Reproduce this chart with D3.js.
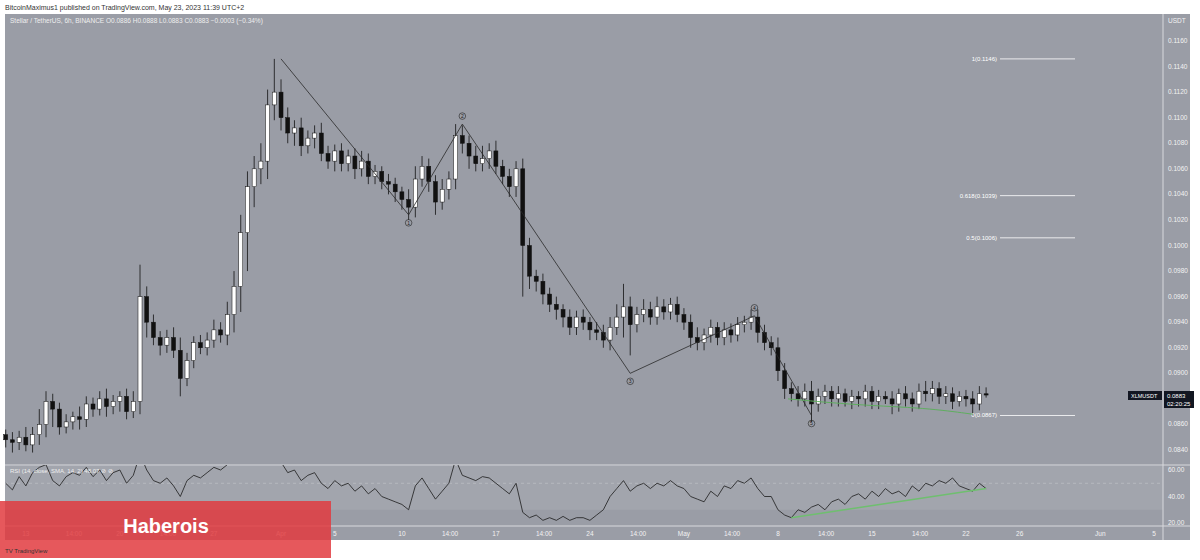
<!DOCTYPE html>
<html><head><meta charset="utf-8">
<script src="https://cdn.jsdelivr.net/npm/d3@7"></script>
<style>body{margin:0;background:#fff}svg{display:block;font-family:"Liberation Sans",Arial,sans-serif}</style>
</head><body><div id="chart"></div>
<script>
// closes in units of 0.0001 USDT, 12h candles from Mar 11 12:00
var closes = [848,846,850,844,852,860,878,872,858,862,866,864,876,872,880,874,878,882,870,878,
  960,940,928,922,928,918,896,910,924,920,926,934,930,946,968,1010,1046,1060,1066,1110,
  1120,1100,1088,1092,1078,1084,1088,1072,1066,1074,1064,1070,1060,1066,1054,1058,1050,1048,1042,1036,
  1030,1052,1062,1050,1034,1044,1052,1086,1080,1070,1064,1068,1074,1062,1054,1046,1060,1000,976,972,
  962,954,950,944,936,944,940,934,932,926,936,944,952,938,946,950,944,952,948,954,
  946,940,928,924,930,936,928,934,930,938,940,944,932,924,920,902,888,884,880,886,
  876,882,886,880,884,878,882,880,886,878,882,880,876,884,880,876,886,884,888,882,
  884,878,882,880,876,884,883];
var upWick = [4,6,5,8,6,12,8,6,5,6,4,8,6,5,6,8,5,4,6,8,
  25,8,6,5,6,8,10,6,5,6,6,8,6,10,12,14,12,10,14,12,
  26,10,8,6,8,6,6,8,6,5,6,5,6,8,6,5,4,6,5,4,
  8,10,8,6,5,8,6,9,8,6,8,10,6,8,5,6,6,8,6,5,
  6,5,6,4,6,5,6,4,6,6,8,10,18,8,6,8,6,8,6,5,
  6,5,6,8,5,6,4,6,5,6,5,6,6,6,5,8,6,5,6,6,
  8,6,5,4,6,4,5,4,5,4,5,4,6,4,6,5,6,8,6,5,
  6,5,4,5,6,6,5];
var dnWick = [6,8,6,5,6,8,10,14,6,5,6,8,6,6,5,8,6,8,6,5,
  10,12,6,8,6,6,14,6,6,5,6,6,6,8,14,20,30,16,12,14,
  12,10,8,10,8,6,8,6,6,8,6,6,8,6,6,6,6,8,8,8,
  10,8,6,8,10,6,8,8,8,10,6,6,8,6,6,8,8,40,10,8,
  8,6,8,8,6,6,6,8,6,6,8,6,16,24,6,6,6,6,6,6,
  6,6,8,6,6,6,6,6,6,5,6,6,8,6,6,8,8,6,6,6,
  14,6,6,6,6,4,6,6,6,6,6,4,8,6,6,6,4,6,6,6,
  6,6,4,6,8,5,2];
var rsi = [50,45,55,48,58,62,64,52,48,55,58,56,62,55,60,52,58,60,50,56,
  72,60,52,50,54,48,40,52,56,54,58,62,60,64,70,78,82,80,80,85,
  84,66,58,60,52,56,58,50,46,52,48,50,44,48,42,46,40,38,36,34,
  30,48,54,46,38,44,50,68,56,54,52,55,54,50,46,42,50,28,24,26,
  22,24,22,25,22,24,24,22,26,30,40,46,52,44,48,50,46,50,48,52,
  48,46,40,38,36,44,40,48,46,52,50,54,46,40,40,30,26,24,30,28,
  32,34,30,36,38,34,40,42,38,44,40,46,42,44,40,48,44,50,48,52,
  50,54,48,46,44,50,46];
var priceTicks = [0.1160,0.1140,0.1120,0.1100,0.1080,0.1060,0.1040,0.1020,0.1000,0.0980,0.0960,0.0940,0.0920,0.0900,0.0860,0.0840];
var rsiTicks = [60,40,20];
var timeLabels = [["13","2023-03-13T00:00"],["14:00","2023-03-16T14:00"],["20","2023-03-20T00:00"],["14:00","2023-03-23T14:00"],
  ["27","2023-03-27T00:00"],["Apr","2023-04-01T00:00"],["5","2023-04-05T00:00"],["10","2023-04-10T00:00"],["14:00","2023-04-13T14:00"],
  ["17","2023-04-17T00:00"],["14:00","2023-04-20T14:00"],["24","2023-04-24T00:00"],["14:00","2023-04-27T14:00"],["May","2023-05-01T00:00"],
  ["14:00","2023-05-04T14:00"],["8","2023-05-08T00:00"],["14:00","2023-05-11T14:00"],["15","2023-05-15T00:00"],["14:00","2023-05-18T14:00"],
  ["22","2023-05-22T00:00"],["26","2023-05-26T00:00"],["Jun","2023-06-01T00:00"],["5","2023-06-05T00:00"]];
// elliott wave pivots: [date, price, label]
var waves = [["2023-04-01T00:00",0.1146,""],["2023-04-10T12:00",0.1024,"1"],["2023-04-14T12:00",0.1095,"2"],
  ["2023-04-27T00:00",0.0900,"3"],["2023-05-06T06:00",0.0945,"4"],["2023-05-10T12:00",0.0867,"5"]];
var fibs = [[1,0.1146],[0.618,0.1039],[0.5,0.1006],[0,0.0867]];

var W = 1200, H = 560, padL = 5, padR = 1163, padT = 14, priceBottom = 465, rsiBottom = 526, axisBottom = 540;
var bg = "#9a9da6";
var svg = d3.select("#chart").append("svg").attr("width", W).attr("height", H);
var parse = d3.isoParse;
var t0 = new Date(2023, 2, 11, 12);

var x = d3.scaleTime().domain([new Date(2023,2,11), new Date(2023,5,5)]).range([-1, -1 + 86*13.43]);
var y = d3.scaleLinear().domain([0.0840, 0.1160]).range([450, 41]);
var yr = d3.scaleLinear().domain([20, 60]).range([523, 470]);

var candles = closes.map(function(c, i) {
  var o = i ? closes[i-1] : 852;
  return {t: new Date(+t0 + i*12*3600e3), o: o/1e4, c: c/1e4,
    h: (Math.max(o,c) + upWick[i])/1e4, l: (Math.min(o,c) - dnWick[i])/1e4, r: rsi[i]};
});

svg.append("rect").attr("x", padL).attr("y", padT).attr("width", 1185).attr("height", axisBottom - padT).attr("fill", bg);
svg.append("text").attr("x", 5).attr("y", 10).style("font-size", "7px").attr("fill", "#333")
  .text("BitcoinMaximus1 published on TradingView.com, May 23, 2023 11:39 UTC+2");
svg.append("text").attr("x", 10).attr("y", 23).style("font-size", "6.5px").attr("fill", "#eee")
  .text("Stellar / TetherUS, 6h, BINANCE  O0.0886  H0.0888  L0.0883  C0.0883  −0.0003 (−0.34%)");

// RSI band
svg.append("rect").attr("x", padL).attr("y", priceBottom + 1).attr("width", padR - padL)
  .attr("height", yr(30) - priceBottom - 1).attr("fill", "#a2a5ad");

// frame lines
[[padR, padT, padR, axisBottom], [padL, priceBottom, 1190, priceBottom], [padL, rsiBottom, 1190, rsiBottom]].forEach(function(l) {
  svg.append("line").attr("x1", l[0]).attr("y1", l[1]).attr("x2", l[2]).attr("y2", l[3]).attr("stroke", "#d8d9dd").attr("stroke-width", 1);
});

// price axis
svg.append("text").attr("x", 1168).attr("y", 23).style("font-size", "6.5px").attr("fill", "#f2f2f2").text("USDT");
priceTicks.forEach(function(p) {
  svg.append("text").attr("x", 1168).attr("y", y(p) + 2).style("font-size", "6.5px").attr("fill", "#f2f2f2").text(p.toFixed(4));
});

// candles
var cg = svg.append("g");
cg.selectAll("line").data(candles).enter().append("line")
  .attr("x1", function(d) { return x(d.t); }).attr("x2", function(d) { return x(d.t); })
  .attr("y1", function(d) { return y(d.h); }).attr("y2", function(d) { return y(d.l); })
  .attr("stroke", "#111").attr("stroke-width", 0.8);
cg.selectAll("rect").data(candles).enter().append("rect")
  .attr("x", function(d) { return x(d.t) - 2; }).attr("width", 4)
  .attr("y", function(d) { return y(Math.max(d.o, d.c)); })
  .attr("height", function(d) { return Math.max(1, Math.abs(y(d.o) - y(d.c))); })
  .attr("fill", function(d) { return d.c >= d.o ? "#fff" : "#111"; })
  .attr("stroke", "#111").attr("stroke-width", 0.5);

// wave lines
var wl = d3.line().x(function(d) { return x(parse(d[0])); }).y(function(d) { return y(d[1]); });
svg.append("path").attr("d", wl(waves)).attr("fill", "none").attr("stroke", "#2a2a2a").attr("stroke-width", 0.8);
waves.slice(1).forEach(function(w) {
  var up = w[2] === "2" || w[2] === "4";
  var cy = y(w[1]) + (up ? -8 : 8);
  svg.append("circle").attr("cx", x(parse(w[0]))).attr("cy", cy).attr("r", 3.3).attr("fill", "none").attr("stroke", "#222").attr("stroke-width", 0.6);
  svg.append("text").attr("x", x(parse(w[0]))).attr("y", cy + 2).attr("text-anchor", "middle").style("font-size", "5px").attr("fill", "#222").text(w[2]);
});

// fib levels
fibs.forEach(function(f) {
  svg.append("line").attr("x1", 1000).attr("x2", 1075).attr("y1", y(f[1])).attr("y2", y(f[1])).attr("stroke", "#fff").attr("stroke-width", 0.8);
  svg.append("text").attr("x", 997).attr("y", y(f[1]) + 2).attr("text-anchor", "end").style("font-size", "6px").attr("fill", "#fff")
    .text(f[0] + "(" + f[1].toFixed(4) + ")");
});

// green support curve in price
svg.append("path").attr("d", d3.line().curve(d3.curveBasis).x(function(d) { return x(parse(d[0])); }).y(function(d) { return y(d[1]); })(
  [["2023-05-08T18:00",0.0880],["2023-05-14T00:00",0.0875],["2023-05-19T00:00",0.0873],["2023-05-22T12:00",0.0868]]))
  .attr("fill", "none").attr("stroke", "#5fae5f").attr("stroke-width", 1);

// last price labels
svg.append("rect").attr("x", 1128).attr("y", 391).attr("width", 34).attr("height", 9).attr("fill", "#131722");
svg.append("text").attr("x", 1131).attr("y", 398).style("font-size", "5.5px").attr("fill", "#fff").text("XLMUSDT");
svg.append("rect").attr("x", 1164).attr("y", 391).attr("width", 30).attr("height", 17).attr("fill", "#131722");
svg.append("text").attr("x", 1167).attr("y", 398).style("font-size", "6px").attr("fill", "#fff").text("0.0883");
svg.append("text").attr("x", 1167).attr("y", 406).style("font-size", "6px").attr("fill", "#fff").text("02:20:25");

// RSI
svg.append("line").attr("x1", padL).attr("x2", padR).attr("y1", yr(50)).attr("y2", yr(50)).attr("stroke", "#c5c7cc").attr("stroke-dasharray", "3,3").attr("stroke-width", 0.6);
svg.append("clipPath").attr("id", "rc").append("rect").attr("x", padL).attr("y", priceBottom).attr("width", padR - padL).attr("height", rsiBottom - priceBottom);
svg.append("path").attr("clip-path", "url(#rc)")
  .attr("d", d3.line().x(function(d) { return x(d.t); }).y(function(d) { return yr(d.r); })(candles))
  .attr("fill", "none").attr("stroke", "#1c1c1c").attr("stroke-width", 0.8);
svg.append("line").attr("x1", x(parse("2023-05-09T00:00"))).attr("y1", yr(24)).attr("x2", x(parse("2023-05-23T12:00"))).attr("y2", yr(46))
  .attr("stroke", "#6fbf6f").attr("stroke-width", 1.5);
svg.append("text").attr("x", 10).attr("y", 473).style("font-size", "6px").attr("fill", "#eee").text("RSI (14, close, SMA, 14, 2)  48.07  ⊘ ⊘");
rsiTicks.forEach(function(v) {
  svg.append("text").attr("x", 1168).attr("y", yr(v) + 2).style("font-size", "6.5px").attr("fill", "#f2f2f2").text(v.toFixed(2));
});

// time axis
timeLabels.forEach(function(t) {
  svg.append("text").attr("x", x(parse(t[1]))).attr("y", 536).attr("text-anchor", "middle").style("font-size", "6.5px").attr("fill", "#f2f2f2").text(t[0]);
});

// banner
svg.append("rect").attr("x", 0).attr("y", 501).attr("width", 331).attr("height", 57).attr("fill", "#e23b40").attr("opacity", 0.85);
svg.append("text").attr("x", 166).attr("y", 533).attr("text-anchor", "middle").style("font-size", "20px").style("font-weight", "bold")
  .attr("fill", "#fff").text("Haberois");
svg.append("text").attr("x", 5).attr("y", 553).style("font-size", "6px").attr("fill", "#333").text("TV TradingView");
</script></body></html>
